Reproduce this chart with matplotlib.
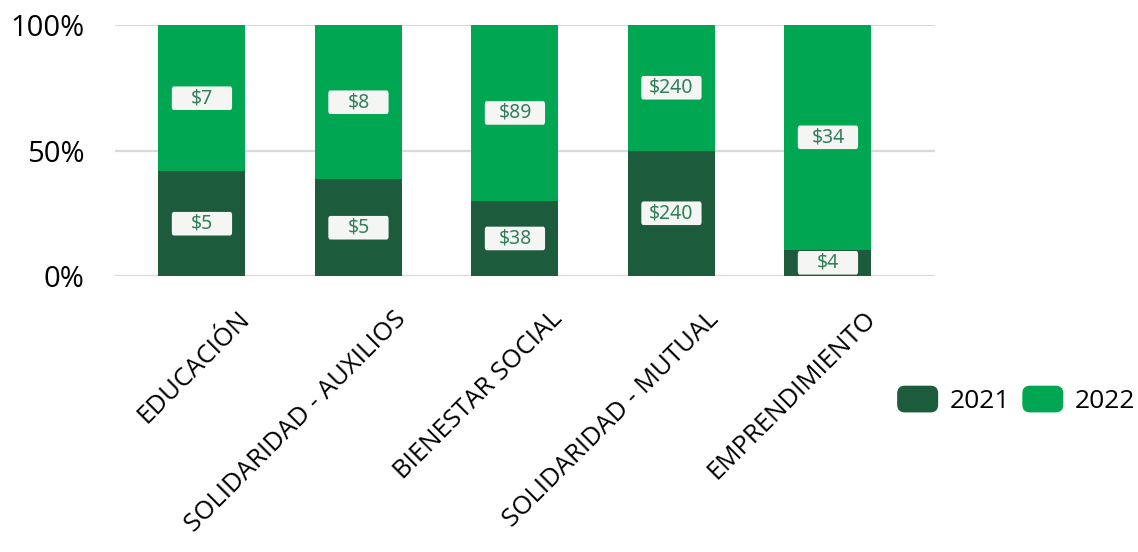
import matplotlib
matplotlib.use('Agg')
import matplotlib.pyplot as plt
import numpy as np
from matplotlib.patches import FancyBboxPatch, Patch
from matplotlib.legend_handler import HandlerPatch
from matplotlib.transforms import ScaledTranslation

# amounts per program line, by year
categories = ['EDUCACIÓN', 'SOLIDARIDAD - AUXILIOS', 'BIENESTAR SOCIAL',
              'SOLIDARIDAD - MUTUAL', 'EMPRENDIMIENTO']
vals_2021 = np.array([5, 5, 38, 240, 4])
vals_2022 = np.array([7, 8, 89, 240, 34])
years = ['2021', '2022']

dark_green = '#1c5b3c'
light_green = '#00a651'
label_green = '#2f8059'
grid_gray = '#d9d9d9'

# 100% stacked: each bar is the share of the two years
total = vals_2021 + vals_2022
share_2021 = vals_2021 / total
share_2022 = vals_2022 / total

plt.rcParams['font.family'] = ['Open Sans', 'DejaVu Sans']

fig = plt.figure(figsize=(11.38, 5.52), dpi=100)
ax = fig.add_axes([0.101, 0.5, 0.7206, 0.4547])

x = np.arange(len(categories))
w = 0.556
ax.bar(x, share_2021, w, color=dark_green, zorder=2)
ax.bar(x, share_2022, w, bottom=share_2021, color=light_green, zorder=2)

# value tags in the middle of every segment
box_w, box_h = 0.385, 0.094
for xi, a, b, va, vb in zip(x, share_2021, share_2022, vals_2021, vals_2022):
    for yc, v in ((a / 2, va), (a + b / 2, vb)):
        ax.add_patch(FancyBboxPatch((xi - box_w / 2, yc - box_h / 2), box_w, box_h,
                                    boxstyle='round,pad=0,rounding_size=0.012',
                                    fc='#f5f5f3', ec='none', zorder=3))
        ax.text(xi, yc, f'${v}', ha='center', va='center', fontsize=14,
                color=label_green, family=['Noto Sans', 'DejaVu Sans'], zorder=4)

ax.set_xlim(-0.556, 4.684)
ax.set_ylim(0, 1)
ax.set_yticks([0, 0.5, 1])
ax.set_yticklabels(['0%', '50%', '100%'], fontsize=21)
ax.yaxis.grid(True, color=grid_gray, lw=1.6)
ax.set_axisbelow(True)
for s in ax.spines.values():
    s.set_visible(False)
ax.tick_params(axis='y', length=0, pad=22)
ax.tick_params(axis='x', length=0, pad=22)

ax.set_xticks(x)
ax.set_xticklabels(categories, rotation=45, ha='right', va='top',
                   rotation_mode='anchor', fontsize=18.5)
# shift the rotated labels so their ends sit right of the bar centres
offset = ScaledTranslation(35 / 100, 0, fig.dpi_scale_trans)
for lab in ax.get_xticklabels():
    lab.set_transform(lab.get_transform() + offset)


def rounded_box(legend, orig_handle, xdescent, ydescent, width, height, fontsize):
    return FancyBboxPatch((-xdescent, -ydescent), width, height,
                          boxstyle='round,pad=0,rounding_size=5')


handles = [Patch(color=dark_green, label=years[0]),
           Patch(color=light_green, label=years[1])]
fig.legend(handles=handles, loc='center left', bbox_to_anchor=(0.789, 0.275),
           ncol=2, frameon=False, fontsize=19, handlelength=1.5, handleheight=1.1,
           handletextpad=0.45, columnspacing=0.5, borderpad=0, borderaxespad=0,
           handler_map={Patch: HandlerPatch(patch_func=rounded_box)})

fig.savefig('out.png', dpi=100)
